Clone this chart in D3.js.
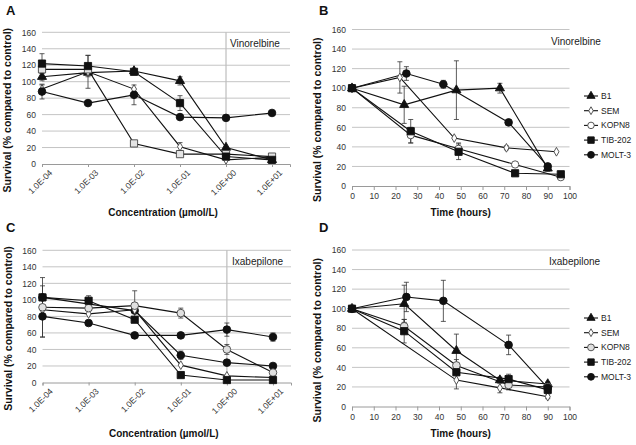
<!DOCTYPE html>
<html>
<head>
<meta charset="utf-8">
<script src="https://cdn.jsdelivr.net/npm/d3@7"></script>
<style>
  body { margin: 0; background: #fff; }
  text { font-family: "Liberation Sans", Arial, sans-serif; }
</style>
</head>
<body>
<div id="chart"></div>
<script>
// tick labels / categories
const concTicks = ["1.0E-04", "1.0E-03", "1.0E-02", "1.0E-01", "1.0E+00", "1.0E+01"];
const concValues = [1e-4, 1e-3, 1e-2, 1e-1, 1, 10];
const timeTicks = [0, 10, 20, 30, 40, 50, 60, 70, 80, 90, 100];
const survivalTicks = [0, 20, 40, 60, 80, 100, 120, 140, 160];
const cellLines = ["B1", "SEM", "KOPN8", "TIB-202", "MOLT-3"];

// A: vinorelbine, survival vs concentration
const aB1 = [106, 111, 113, 101, 20, 5];
const aB1Err = [5, 0, 0, 5, 0, 0];
const aSEM = [91, 112, 91, 21, 5, 8];
const aSEMErr = [5, 20, 0, 5, 0, 0];
const aKOPN8 = [115, 115, 25, 12, 12, 9];
const aKOPN8Err = [0, 0, 0, 0, 0, 0];
const aTIB = [122, 119, 112, 74, 9, 5];
const aTIBErr = [12, 13, 0, 9, 0, 0];
const aMOLT = [88, 74, 84, 57, 56, 62];
const aMOLTErr = [9, 0, 12, 0, 0, 0];

// B: vinorelbine, survival vs time
const bB1X = [0, 24, 48, 68, 90], bB1 = [100, 83, 98, 100, 18], bB1Err = [0, 19, 30, 5, 3];
const bSEMX = [0, 22, 47, 71, 94], bSEM = [100, 111, 49, 39, 35], bSEMErr = [0, 16, 0, 2, 0];
const bKOPN8X = [0, 27, 49, 75, 96], bKOPN8 = [100, 52, 38, 22, 9], bKOPN8Err = [0, 8, 6, 2, 0];
const bTIBX = [0, 27, 49, 75, 96], bTIB = [100, 56, 35, 13, 12], bTIBErr = [0, 12, 8, 0, 0];
const bMOLTX = [0, 25, 42, 72, 90], bMOLT = [100, 115, 104, 65, 20], bMOLTErr = [0, 7, 4, 0, 3];

// C: ixabepilone, survival vs concentration
const cB1 = [103, null, 87, 33, 24, 20];
const cB1Err = [0, 0, 0, 5, 0, 0];
const cSEM = [88, 83, 88, 21, 8, 6];
const cSEMErr = [0, 0, 0, 0, 0, 0];
const cKOPN8 = [91, 90, 93, 84, 40, 12];
const cKOPN8Err = [36, 0, 18, 6, 6, 0];
const cTIB = [103, 99, 76, 9, 3, 3];
const cTIBErr = [14, 6, 0, 0, 0, 0];
const cMOLT = [80, 72, 57, 57, 64, 55];
const cMOLTErr = [25, 0, 0, 0, 8, 5];

// D: ixabepilone, survival vs time
const dB1X = [0, 24, 48, 68, 90], dB1 = [100, 105, 57, 27, 23], dB1Err = [0, 19, 17, 3, 2];
const dSEMX = [0, 48, 68, 90], dSEM = [100, 27, 19, 10], dSEMErr = [0, 9, 5, 2];
const dKOPN8X = [0, 24, 48, 72, 90], dKOPN8 = [100, 82, 42, 22, 20], dKOPN8Err = [0, 7, 6, 5, 2];
const dTIBX = [0, 24, 48, 72, 90], dTIB = [100, 77, 35, 28, 17], dTIBErr = [0, 12, 0, 5, 2];
const dMOLTX = [0, 25, 42, 72, 90], dMOLT = [100, 112, 108, 63, 19], dMOLTErr = [0, 15, 21, 10, 3];

// marker styles
const tri = {shape: d3.symbolTriangle, size: 36, fill: "#111"};
const dia = {shape: d3.symbolDiamond, size: 22, fill: "#fff"};
const sq = {shape: d3.symbolSquare, size: 52, fill: "#111"};
const lightSq = {shape: d3.symbolSquare, size: 52, fill: "#e4e4e4"};
const dot = {shape: d3.symbolCircle, size: 46, fill: "#111"};
const ring = {shape: d3.symbolCircle, size: 42, fill: "#fff"};
const greyRing = {shape: d3.symbolCircle, size: 46, fill: "#e0e0e0"};

const svg = d3.select("#chart").append("svg")
    .attr("width", 636)
    .attr("height", 445)
    .style("background", "#fff");

function pts(xs, ys, es) {
    return ys.map((v, i) => ({x: xs[i], y: v, e: es[i]})).filter(d => d.y != null);
}

function drawPanel(p) {
    let y = d3.scaleLinear().domain([0, 160]).range([p.bottom, p.top]);
    let x = p.conc
        ? d3.scaleLog().domain([1e-4, 24.6]).range([p.left, p.right])
        : d3.scaleLinear().domain([0, 100]).range([p.left, p.right]);

    let g = svg.append("g");

    // gridlines
    g.selectAll(".grid").data(survivalTicks.slice(1)).enter()
        .append("line")
        .attr("x1", p.left).attr("x2", p.right)
        .attr("y1", d => y(d)).attr("y2", d => y(d))
        .attr("stroke", "#c4c4c4").attr("stroke-width", 1);

    // y labels
    let ya = g.append("g")
        .attr("transform", "translate(" + p.left + ",0)")
        .call(d3.axisLeft(y).tickValues(survivalTicks).tickSize(0).tickPadding(6));
    ya.select(".domain").remove();
    ya.selectAll("text").attr("font-size", 8.5).attr("fill", "#333")
        .style("font-family", "'Liberation Sans', Arial, sans-serif");

    // x axis
    let xa;
    if (p.conc) {
        xa = g.append("g")
            .attr("transform", "translate(0," + p.bottom + ")")
            .call(d3.axisBottom(x).tickValues(concValues).tickFormat((d, i) => concTicks[i]).tickSize(3));
        xa.selectAll("text")
            .attr("text-anchor", "end")
            .attr("transform", "translate(4,3) rotate(-45)")
            .attr("dy", "0.35em");
        // vertical marker at 1.0E+00
        g.append("line")
            .attr("x1", x(1)).attr("x2", x(1))
            .attr("y1", p.top).attr("y2", p.bottom)
            .attr("stroke", "#bdbdbd").attr("stroke-width", 1.2);
    } else {
        xa = g.append("g")
            .attr("transform", "translate(0," + p.bottom + ")")
            .call(d3.axisBottom(x).tickValues(timeTicks).tickSize(4).tickPadding(3));
    }
    xa.select(".domain").attr("stroke", "#9a9a9a");
    xa.selectAll(".tick line").attr("stroke", "#9a9a9a");
    xa.selectAll("text").attr("font-size", 8.5).attr("fill", "#333")
        .style("font-family", "'Liberation Sans', Arial, sans-serif");

    let line = d3.line().x(d => x(d.x)).y(d => y(d.y));

    // error bars first, then lines, then markers
    p.series.forEach(s => {
        let data = pts(s.x, s.y, s.err).filter(d => d.e > 0);
        let eb = g.append("g").attr("stroke", "#333").attr("stroke-width", 0.8);
        data.forEach(d => {
            let cx = x(d.x);
            eb.append("line").attr("x1", cx).attr("x2", cx)
                .attr("y1", y(d.y + d.e)).attr("y2", y(Math.max(0, d.y - d.e)));
            eb.append("line").attr("x1", cx - 2.5).attr("x2", cx + 2.5)
                .attr("y1", y(d.y + d.e)).attr("y2", y(d.y + d.e));
            eb.append("line").attr("x1", cx - 2.5).attr("x2", cx + 2.5)
                .attr("y1", y(Math.max(0, d.y - d.e))).attr("y2", y(Math.max(0, d.y - d.e)));
        });
    });
    p.series.forEach(s => {
        g.append("path")
            .datum(pts(s.x, s.y, s.err))
            .attr("d", line)
            .attr("fill", "none")
            .attr("stroke", "#111")
            .attr("stroke-width", 1.1);
    });
    p.series.forEach(s => {
        g.selectAll(null).data(pts(s.x, s.y, s.err)).enter()
            .append("path")
            .attr("transform", d => "translate(" + x(d.x) + "," + y(d.y) + ")")
            .attr("d", d3.symbol().type(s.m.shape).size(s.m.size))
            .attr("fill", s.m.fill)
            .attr("stroke", s.m.fill == "#111" ? "#111" : "#444")
            .attr("stroke-width", 0.9);
    });

    // drug label
    g.append("text")
        .attr("x", p.drugX).attr("y", p.top + 15)
        .attr("font-size", 10).attr("fill", "#222")
        .text(p.drug);

    // axis titles
    g.append("text")
        .attr("x", (p.left + p.right) / 2 - (p.conc ? 3 : 0)).attr("y", p.titleY)
        .attr("text-anchor", "middle")
        .attr("font-size", 10).attr("font-weight", "bold").attr("fill", "#111")
        .text(p.conc ? "Concentration (\u00b5mol/L)" : "Time (hours)");
    g.append("text")
        .attr("transform", "translate(" + (p.left - 31) + "," + ((p.top + p.bottom) / 2 + 12) + ") rotate(-90)")
        .attr("text-anchor", "middle")
        .attr("font-size", 10.5).attr("font-weight", "bold").attr("fill", "#111")
        .text("Survival (% compared to control)");

    // panel letter
    g.append("text")
        .attr("x", p.letterX).attr("y", p.letterY)
        .attr("font-size", 13).attr("font-weight", "bold").attr("fill", "#111")
        .text(p.letter);

    // legend
    if (p.legendY) {
        let lg = g.append("g");
        p.series.forEach((s, i) => {
            let ly = p.legendY + i * 14.7;
            lg.append("line").attr("x1", 584).attr("x2", 598).attr("y1", ly).attr("y2", ly)
                .attr("stroke", "#111").attr("stroke-width", 1.1);
            lg.append("path")
                .attr("transform", "translate(591," + ly + ")")
                .attr("d", d3.symbol().type(s.m.shape).size(s.m.size * 0.8))
                .attr("fill", s.m.fill)
                .attr("stroke", s.m.fill == "#111" ? "#111" : "#444")
                .attr("stroke-width", 0.9);
            lg.append("text").attr("x", 601).attr("y", ly).attr("dy", "0.35em")
                .attr("font-size", 8.5).attr("fill", "#222")
                .text(s.name);
        });
    }
}

drawPanel({
    letter: "A", letterX: 6, letterY: 15, conc: true,
    left: 42, right: 290, top: 32.3, bottom: 164, titleY: 216,
    drug: "Vinorelbine", drugX: 230,
    series: [
        {name: cellLines[0], x: concValues, y: aB1, err: aB1Err, m: tri},
        {name: cellLines[1], x: concValues, y: aSEM, err: aSEMErr, m: dia},
        {name: cellLines[2], x: concValues, y: aKOPN8, err: aKOPN8Err, m: lightSq},
        {name: cellLines[3], x: concValues, y: aTIB, err: aTIBErr, m: sq},
        {name: cellLines[4], x: concValues, y: aMOLT, err: aMOLTErr, m: dot}
    ]
});

drawPanel({
    letter: "B", letterX: 319, letterY: 15, conc: false,
    left: 352, right: 569.5, top: 29.5, bottom: 186, titleY: 216,
    drug: "Vinorelbine", drugX: 551, legendY: 96,
    series: [
        {name: cellLines[0], x: bB1X, y: bB1, err: bB1Err, m: tri},
        {name: cellLines[1], x: bSEMX, y: bSEM, err: bSEMErr, m: dia},
        {name: cellLines[2], x: bKOPN8X, y: bKOPN8, err: bKOPN8Err, m: ring},
        {name: cellLines[3], x: bTIBX, y: bTIB, err: bTIBErr, m: sq},
        {name: cellLines[4], x: bMOLTX, y: bMOLT, err: bMOLTErr, m: dot}
    ]
});

drawPanel({
    letter: "C", letterX: 6, letterY: 232, conc: true,
    left: 42.5, right: 291, top: 250.3, bottom: 382.5, titleY: 437,
    drug: "Ixabepilone", drugX: 232,
    series: [
        {name: cellLines[0], x: concValues, y: cB1, err: cB1Err, m: dot},
        {name: cellLines[1], x: concValues, y: cSEM, err: cSEMErr, m: dia},
        {name: cellLines[2], x: concValues, y: cKOPN8, err: cKOPN8Err, m: greyRing},
        {name: cellLines[3], x: concValues, y: cTIB, err: cTIBErr, m: sq},
        {name: cellLines[4], x: concValues, y: cMOLT, err: cMOLTErr, m: dot}
    ]
});

drawPanel({
    letter: "D", letterX: 319, letterY: 232, conc: false,
    left: 352, right: 569.5, top: 250, bottom: 406.5, titleY: 437,
    drug: "Ixabepilone", drugX: 549, legendY: 318,
    series: [
        {name: cellLines[0], x: dB1X, y: dB1, err: dB1Err, m: tri},
        {name: cellLines[1], x: dSEMX, y: dSEM, err: dSEMErr, m: dia},
        {name: cellLines[2], x: dKOPN8X, y: dKOPN8, err: dKOPN8Err, m: greyRing},
        {name: cellLines[3], x: dTIBX, y: dTIB, err: dTIBErr, m: sq},
        {name: cellLines[4], x: dMOLTX, y: dMOLT, err: dMOLTErr, m: dot}
    ]
});
</script>
</body>
</html>
